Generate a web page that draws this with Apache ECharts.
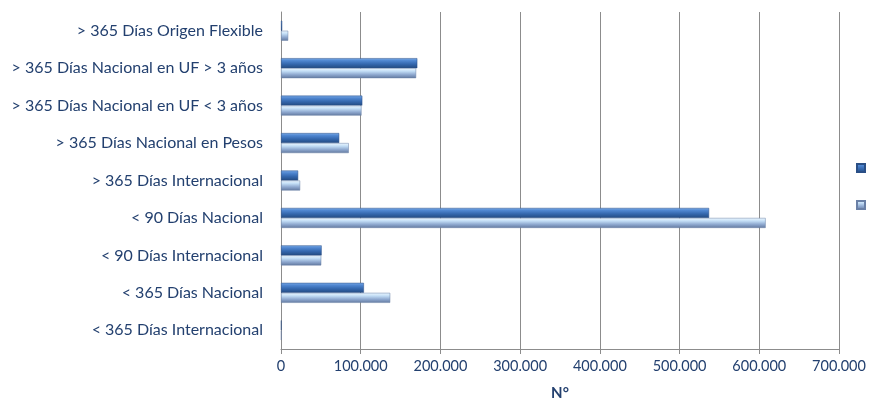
<!DOCTYPE html>
<html><head><meta charset="utf-8">
<script src="https://cdn.jsdelivr.net/npm/echarts@6/dist/echarts.min.js"></script>
<style>html,body{margin:0;padding:0;background:#fff}#c{width:869px;height:401px}</style>
</head><body><div id="c"></div>
<script>
const categories = [
  '> 365 Días Origen Flexible',
  '> 365 Días Nacional en UF > 3 años',
  '> 365 Días Nacional en UF < 3 años',
  '> 365 Días Nacional en Pesos',
  '> 365 Días Internacional',
  '< 90 Días Nacional',
  '< 90 Días Internacional',
  '< 365 Días Nacional',
  '< 365 Días Internacional'
];
const seriesDark = [1500, 171000, 102000, 73000, 21500, 537000, 51000, 104000, 600];
const seriesLight = [9000, 169500, 101000, 85000, 24000, 608000, 50500, 137000, 600];
const xTicks = [0, 100000, 200000, 300000, 400000, 500000, 600000, 700000];

function grad(stops){return new echarts.graphic.LinearGradient(0,0,0,1,stops.map((c,i)=>({offset:c[0],color:c[1]})));}
const darkFill = grad([[0,'#7aaae6'],[0.25,'#4f86d0'],[0.6,'#3467ad'],[1,'#234a80']]);
const lightFill = grad([[0,'#eef8ff'],[0.3,'#c3def6'],[0.65,'#8ea8cf'],[1,'#62799f']]);
const txt = '#23406f';
const chart = echarts.init(document.getElementById('c'), null, {renderer:'canvas'});
chart.setOption({
  animation:false,
  grid:{left:281,right:30,top:12,bottom:52,containLabel:false,outerBoundsMode:'none'},
  legend:{orient:'vertical',right:-2,top:158,itemWidth:8,itemHeight:8,itemGap:27,
    formatter:()=>'',data:['Serie 1','Serie 2'],icon:'rect',textStyle:{fontSize:1}},
  xAxis:{type:'value',min:xTicks[0],max:xTicks[xTicks.length-1],interval:100000,
    name:'N°',nameLocation:'middle',nameGap:37,
    nameTextStyle:{color:txt,fontWeight:'bold',fontSize:15,fontFamily:'Lato'},
    axisLine:{show:true,lineStyle:{color:'#8c8c8c'}},
    axisTick:{show:true,length:5,lineStyle:{color:'#8c8c8c'}},
    splitLine:{show:true,lineStyle:{color:'#8c8c8c',width:1}},
    axisLabel:{color:txt,fontSize:14.5,fontFamily:'Lato',margin:10,
      formatter:v=>v.toLocaleString('de-DE')}},
  yAxis:{type:'category',data:categories,inverse:true,
    axisLine:{show:true,lineStyle:{color:'#8c8c8c'}},
    axisTick:{show:false},
    axisLabel:{color:txt,fontSize:16,fontFamily:'Lato',margin:18}},
  series:[
    {name:'Serie 1',type:'bar',data:seriesDark,barWidth:10,barGap:'0%',
      itemStyle:{color:darkFill,borderColor:'#2a4f86',borderWidth:0.5}},
    {name:'Serie 2',type:'bar',data:seriesLight,barWidth:10,barGap:'0%',
      itemStyle:{color:lightFill,borderColor:'#6a80a6',borderWidth:0.5}}
  ]
});
</script></body></html>
